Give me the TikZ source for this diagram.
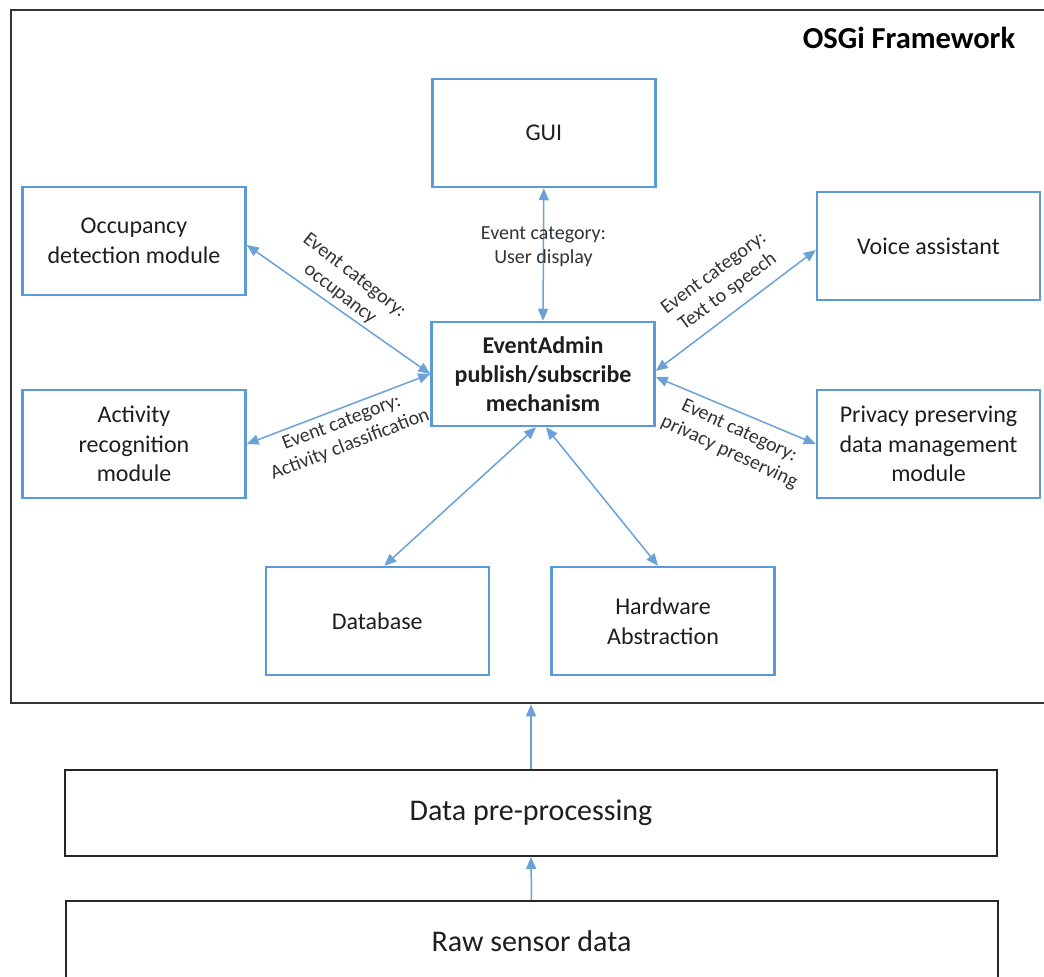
\documentclass[tikz,border=0pt]{standalone}
\usepackage{fontspec}
\setmainfont{Carlito}
\usetikzlibrary{arrows.meta,calc}
\definecolor{boxblue}{HTML}{5B9BD5}
\definecolor{arrblue}{HTML}{6AA2D8}
\definecolor{txt}{HTML}{1E1E1E}
\definecolor{lbl}{HTML}{333333}
\definecolor{framec}{HTML}{333333}
\tikzset{
  bluebox/.style={draw=boxblue, line width=2.5pt, minimum width=223pt, minimum height=108pt,
    inner sep=0pt, align=center, text=txt, font=\fontsize{24}{29.5}\selectfont},
  blackbox/.style={draw=black!85, line width=2pt, minimum width=932pt,
    inner sep=0pt, align=center, text=txt, font=\fontsize{30}{36}\selectfont},
  framebox/.style={draw=framec, line width=2.5pt, inner sep=0pt},
  dblarrow/.style={draw=arrblue, line width=1.5pt,
    {Triangle[length=12pt,width=10pt]}-{Triangle[length=12pt,width=10pt]}},
  uparrow/.style={draw=arrblue, line width=1.5pt, -{Triangle[length=12pt,width=10pt]}},
  evlabel/.style={align=center, inner sep=0pt, text=lbl, font=\fontsize{20}{23.5}\selectfont}
}
\begin{document}
\begin{tikzpicture}[x=1pt,y=-1pt]
\useasboundingbox (0,0) rectangle (1044,977);
\fill[white] (0,0) rectangle (1044,977);
\clip (0,0) rectangle (1044,977);

% OSGi frame
\node[framebox, minimum width=1049pt, minimum height=693pt] (osgi) at (535.5,356.5) {};
\node[font=\fontsize{30.5}{35}\bfseries\selectfont, text=black, inner sep=0pt] (title) at (909,38) {OSGi Framework};

% modules
\node[bluebox] (gui) at (543.8,133) {GUI};
\node[bluebox] (occ) at (134,241) {Occupancy\\detection module};
\node[bluebox] (voice) at (928.5,246) {Voice assistant};
\node[bluebox, minimum height=104pt, font=\fontsize{24}{29}\bfseries\selectfont] (ea) at (543,374) {EventAdmin\\publish/subscribe\\mechanism};
\node[bluebox] (act) at (134,444) {Activity\\recognition\\module};
\node[bluebox] (priv) at (928.5,444) {Privacy preserving\\data management\\module};
\node[bluebox] (db) at (377.3,621) {Database};
\node[bluebox] (hw) at (663,621) {Hardware\\Abstraction};

% lower layers
\node[blackbox, minimum height=86pt] (pre) at (531,813) {Data pre-processing};
\node[blackbox, minimum height=80pt] (raw) at (531.5,941) {Raw sensor data};

% connectors
\draw[dblarrow] (gui.south) -- (ea.north);
\draw[dblarrow] ($(occ.east)+(0,4)$) -- (ea.west);
\draw[dblarrow] (act.east) -- (ea.west);
\draw[dblarrow] ($(voice.west)+(0,4)$) -- ($(ea.east)+(0,-3)$);
\draw[dblarrow] (priv.west) -- ($(ea.east)+(0,3)$);
\draw[dblarrow] ($(db.north)+(7,0)$) -- ($(ea.south)+(-7,0)$);
\draw[dblarrow] ($(hw.north)+(-5,0)$) -- ($(ea.south)+(3,0)$);
\draw[uparrow] (pre.north) -- (pre.north |- osgi.south);
\draw[uparrow] (raw.north) -- (pre.south);

% labels
\node[evlabel] (lgui) at (543.5,246.5) {Event category:\\User display};
\node[evlabel, rotate=-38] (locc) at (347,285) {Event category:\\occupancy};
\node[evlabel, rotate=21] (lact) at (346,434) {Event category:\\Activity classification};
\node[evlabel, rotate=36.5] (lvoice) at (721,283) {Event category:\\Text to speech};
\node[evlabel, rotate=-25] (lpriv) at (734,442) {Event category:\\privacy preserving};
\end{tikzpicture}
\end{document}
